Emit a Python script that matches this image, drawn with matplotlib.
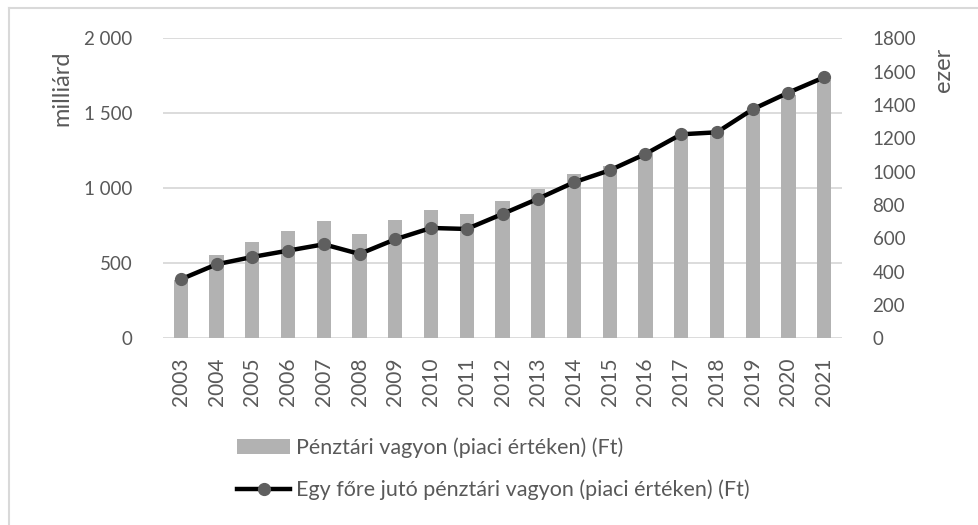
import matplotlib
matplotlib.use("Agg")
import matplotlib.pyplot as plt
from matplotlib.lines import Line2D

plt.rcParams["font.family"] = ["Lato", "DejaVu Sans"]

years = [str(y) for y in range(2003, 2022)]
# Pénztári vagyon, milliárd Ft
assets = [390, 553, 640, 715, 782, 695, 787, 857, 831, 917,
          995, 1094, 1150, 1235, 1345, 1360, 1510, 1625, 1725]
# Egy főre jutó pénztári vagyon, ezer Ft
per_capita = [354, 444, 488, 526, 564, 506, 594, 662, 656, 746,
              838, 936, 1008, 1106, 1224, 1236, 1374, 1474, 1566]

left_ticks = [0, 500, 1000, 1500, 2000]
left_tick_labels = ["0", "500", "1 000", "1 500", "2 000"]
right_ticks = [0, 200, 400, 600, 800, 1000, 1200, 1400, 1600, 1800]

TXT = "#595959"
GRID = "#d9d9d9"

W, H = 979, 525
fig = plt.figure(figsize=(W / 100, H / 100), dpi=100)
ax = fig.add_axes([163 / W, 1 - 338.3 / H, (842 - 163) / W, 300 / H])
ax2 = ax.twinx()

x = list(range(len(years)))
bars = ax.bar(x, assets, width=0.4, color="#b2b2b2", zorder=2,
              label="Pénztári vagyon (piaci értéken) (Ft)")
line, = ax2.plot(x, per_capita, color="black", lw=3.2, marker="o",
                 markersize=8.5, markerfacecolor="#5f5f5f",
                 markeredgecolor="#5f5f5f", zorder=3,
                 label="Egy főre jutó pénztári vagyon (piaci értéken) (Ft)")

ax.set_xlim(-0.5, len(years) - 0.5)
ax.set_ylim(0, 2000)
ax2.set_ylim(0, 1800)

ax.set_yticks(left_ticks)
ax.set_yticklabels(left_tick_labels)
ax2.set_yticks(right_ticks)
ax.set_xticks(x)
ax.set_xticklabels(years, rotation=90)

ax.yaxis.grid(True, color=GRID, lw=1.3, zorder=0)
ax.set_axisbelow(True)
for a in (ax, ax2):
    for s in a.spines.values():
        s.set_visible(False)
    a.tick_params(length=0, colors=TXT, labelsize=13.5)
ax.tick_params(axis="y", pad=22)
ax2.tick_params(axis="y", pad=22)
ax.tick_params(axis="x", pad=14, labelsize=15)

fig.text(62 / W, 1 - 88 / H, "milliárd", rotation=90, ha="center",
         va="center", color=TXT, fontsize=17)
fig.text(944 / W, 1 - 70 / H, "ezer", rotation=90, ha="center",
         va="center", color=TXT, fontsize=17)

ax.set_zorder(ax2.get_zorder() - 1)
ax2.patch.set_visible(False)

fig.legend(handles=[bars, line], loc="upper left",
           bbox_to_anchor=(228 / W, 1 - 429 / H), frameon=False,
           fontsize=15.5, labelcolor=TXT, handlelength=2.5,
           handletextpad=0.25, labelspacing=1.0, borderaxespad=0)

# chart frame (only left and top edges are visible in the crop)
fig.add_artist(Line2D([9 / W, 9 / W], [0, 1 - 8 / H], color=GRID, lw=1.5))
fig.add_artist(Line2D([9 / W, 1], [1 - 8 / H, 1 - 8 / H], color=GRID, lw=1.5))

fig.savefig("out.png", dpi=100, facecolor="white")
